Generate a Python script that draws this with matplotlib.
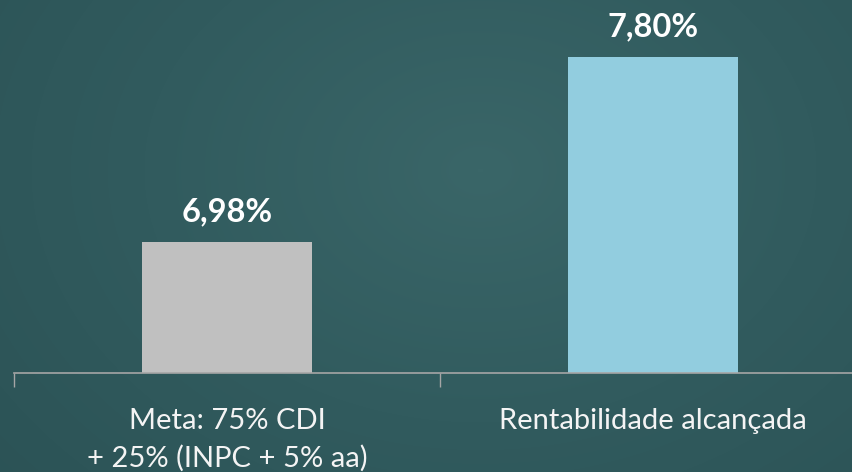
import matplotlib.pyplot as plt
import numpy as np
from matplotlib.colors import LinearSegmentedColormap

categories = ["Meta: 75% CDI\n+ 25% (INPC + 5% aa)", "Rentabilidade alcançada"]
values = [6.98, 7.80]
labels = ["6,98%", "7,80%"]
colors = ["#c0c0c0", "#92cddf"]

bg = "#305a5d"

fig = plt.figure(figsize=(8.52, 4.72), dpi=100, facecolor=bg)

# soft chalkboard-like vignette: lighter towards the upper middle
W, H = 852, 472
yy, xx = np.mgrid[0:H, 0:W]
d = np.sqrt(((xx - 480) / 560.0) ** 2 + ((yy - 170) / 420.0) ** 2)
board = LinearSegmentedColormap.from_list("board", ["#3a6668", "#315b5e", "#2b5255"])
fig.figimage(np.clip(d, 0, 1.2) / 1.2, cmap=board, vmin=0, vmax=1,
             origin="upper", zorder=0)

ax = fig.add_axes([14 / 852, 99 / 472, 852 / 852, 361 / 472])
ax.set_facecolor("none")
ax.set_zorder(2)

x = range(len(values))
ax.bar(x, values, width=0.4, color=colors)
ax.set_xlim(-0.5, 1.5)
ax.set_ylim(6.4, 8.0)

for xi, v, lab in zip(x, values, labels):
    ax.text(xi, v + 0.07, lab, ha="center", va="bottom", color="white",
            fontsize=23.5, fontweight="bold", family="Lato")

ax.set_xticks([-0.5, 0.5, 1.5])
ax.set_xticklabels([])
ax.set_xticks(list(x), minor=True)
ax.set_xticklabels(categories, minor=True, color="#f4f4f4", fontsize=21,
                   family="Lato", linespacing=1.5)
ax.tick_params(axis="x", which="major", length=10, color="#a6a6a6", width=1)
ax.tick_params(axis="x", which="minor", length=0, pad=25)
ax.set_yticks([])

for s in ["top", "right", "left"]:
    ax.spines[s].set_visible(False)
ax.spines["bottom"].set_color("#a6a6a6")
ax.spines["bottom"].set_linewidth(1.2)

plt.savefig("out.png", dpi=100, facecolor=bg)
